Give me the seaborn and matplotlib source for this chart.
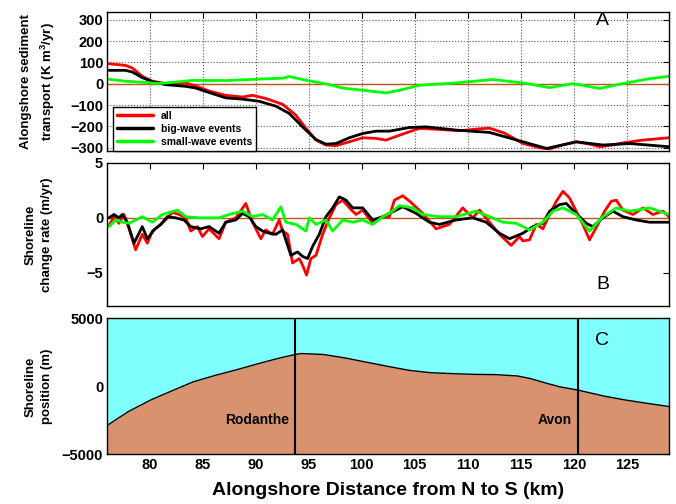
import matplotlib
matplotlib.use("Agg")
import matplotlib.pyplot as plt
import seaborn as sns
import numpy as np
import pandas as pd

# ---- Panel A: alongshore sediment transport (K m^3/yr)
a_km_all = [76.16, 77.73, 78.36, 79.30, 80.25, 81.51, 83.40, 84.34, 85.60, 87.17, 88.75, 89.69,
            90.95, 92.53, 93.78, 94.73, 95.67, 96.62, 97.56, 98.82, 100.08, 101.34, 102.28,
            104.01, 105.43, 107.32, 109.21, 111.10, 112.04, 113.46, 115.16, 116.76, 117.71,
            118.93, 120.23, 121.48, 122.43, 123.65, 124.60, 126.49, 128.94]
a_all = [94, 86, 74, 35, 12, 1, 4, -10, -34, -54, -62, -54,
         -69, -96, -147, -208, -264, -287, -290, -272, -253, -256, -264,
         -233, -209, -214, -220, -211, -208, -231, -279, -300, -305,
         -287, -272, -283, -295, -287, -277, -264, -253]
a_km_big = [76.16, 77.73, 78.36, 79.30, 80.25, 81.51, 83.40, 84.34, 85.60, 87.17, 88.75, 90.32,
            91.90, 93.16, 94.41, 95.67, 96.62, 97.56, 98.82, 100.08, 101.34, 102.60, 104.49,
            106.07, 108.89, 112.04, 114.64, 117.43, 120.23, 122.74, 125.26, 128.97]
a_big = [63, 63, 55, 29, 10, -4, -12, -20, -41, -66, -72, -82,
         -105, -139, -202, -261, -283, -280, -253, -233, -222, -222, -205,
         -202, -217, -228, -264, -303, -272, -287, -280, -295]
a_km_small = [76.16, 77.73, 79.30, 80.88, 82.45, 84.03, 87.17, 90.32, 92.53, 93.15, 94.41, 95.67,
              96.93, 98.19, 100.08, 102.28, 103.86, 105.43, 108.89, 112.35, 115.19, 117.71,
              119.91, 122.43, 124.63, 127.15, 128.97]
a_small = [21, 12, 7, 1, 8, 16, 15, 22, 26, 34, 20, 8,
           -4, -20, -30, -43, -27, -7, 4, 20, 4, -18,
           1, -22, 1, 24, 35]

# ---- Panel B: shoreline change rate (m/yr)
b_km_all = [76.16, 76.63, 77.10, 77.57, 78.05, 78.67, 79.30, 79.78, 80.25, 81.04,
            81.67, 82.14, 82.77, 83.39, 83.87, 84.50, 84.97, 85.60, 86.54, 87.17,
            88.12, 89.06, 89.69, 90.48, 90.95, 91.58, 92.21, 92.53, 93.00, 93.47,
            94.10, 94.42, 94.79, 95.20, 95.68, 96.31, 96.94, 97.57, 98.20, 98.83,
            99.46, 100.09, 101.03, 101.98, 102.60, 103.07, 103.86, 104.64, 105.74, 107.00,
            108.26, 109.52, 110.47, 111.10, 112.04, 112.98, 114.09, 114.87, 115.19, 115.82,
            116.45, 117.08, 117.71, 118.34, 118.97, 119.59, 120.22, 120.85, 121.48, 122.27,
            122.90, 123.53, 124.00, 124.63, 125.58, 126.52, 127.46, 128.41, 128.97]
b_all = [-0.7, 0.1, -0.5, 0.3, -1.0, -2.9, -1.5, -2.3, -1.2, -0.6,
         0.0, 0.5, 0.3, 0.0, -1.2, -0.8, -1.7, -1.0, -1.9, -0.4,
         0.0, 1.3, -0.4, -1.9, -1.1, -1.5, -0.2, -1.2, -1.5, -4.1,
         -3.7, -4.3, -5.2, -3.7, -3.4, -1.5, 0.0, 1.2, 1.6, 0.9,
         0.3, 0.7, -0.5, 0.1, 0.1, 1.6, 2.0, 1.4, 0.4, -1.0,
         -0.6, 0.9, 0.0, 0.7, -0.4, -1.5, -2.5, -1.7, -2.1, -2.0,
         -0.6, -1.0, 0.3, 1.5, 2.4, 1.8, 0.6, -0.6, -2.0, -0.6,
         0.6, 1.5, 1.6, 0.7, 0.3, 0.9, 0.3, 0.6, 0.1]
b_km_big = [76.16, 76.63, 77.10, 77.41, 77.89, 78.52, 79.30, 79.78, 80.41, 81.04,
            81.67, 82.45, 83.24, 83.87, 84.81, 85.60, 86.54, 87.17, 88.12, 88.75,
            89.38, 90.01, 90.64, 91.27, 91.90, 92.53, 93.31, 93.94, 94.42, 94.89,
            95.36, 95.99, 96.62, 97.25, 97.88, 98.51, 99.14, 100.09, 101.03, 101.98,
            102.60, 103.86, 105.12, 106.37, 107.32, 108.89, 110.47, 111.73, 112.98, 113.93,
            115.19, 116.13, 117.08, 117.71, 118.65, 119.28, 120.22, 121.17, 121.80, 122.74,
            123.69, 124.63, 125.89, 127.15, 128.97]
b_big = [0.0, 0.3, 0.0, 0.3, -0.4, -2.3, -0.8, -1.9, -1.1, -0.6,
         0.1, 0.0, -0.2, -0.8, -1.0, -0.8, -1.4, -0.4, -0.2, 0.4,
         0.1, -0.8, -1.2, -1.4, -1.5, -1.1, -3.4, -3.1, -3.5, -3.7,
         -2.6, -1.5, 0.1, 0.9, 1.9, 1.6, 0.9, 0.9, -0.2, 0.1,
         0.4, 1.0, 0.4, -0.4, -0.6, -0.2, 0.0, -0.4, -1.4, -1.9,
         -1.4, -0.8, -0.5, 0.6, 1.2, 1.3, 0.4, -0.5, -0.8, 0.0,
         0.6, 0.1, -0.2, -0.4, -0.4]
b_km_small = [76.16, 76.79, 77.41, 78.05, 79.30, 80.25, 81.19, 82.61, 83.39, 84.65,
              85.60, 86.54, 87.49, 88.75, 89.69, 90.64, 91.58, 92.37, 92.84, 93.79,
              94.73, 95.05, 95.68, 96.62, 97.25, 98.20, 99.14, 100.09, 101.03, 101.98,
              102.60, 103.54, 104.80, 105.74, 107.32, 108.89, 110.78, 112.04, 113.30, 114.56,
              115.82, 117.08, 118.02, 118.97, 120.22, 121.48, 122.74, 124.00, 125.26, 127.15,
              128.97]
b_small = [-0.8, -0.2, -0.4, -0.5, 0.1, -0.4, 0.3, 0.7, 0.1, 0.0,
           0.0, 0.0, 0.3, 0.6, 0.1, 0.3, -0.2, 1.0, -0.4, -0.6,
           -1.2, 0.0, -0.6, -0.2, -1.2, -0.2, -0.4, -0.2, -0.6, 0.1,
           0.4, 1.1, 0.9, 0.3, 0.1, 0.1, 0.6, 0.1, -0.4, -0.5,
           -1.1, -0.4, 0.6, 0.9, 0.3, -1.2, 0.1, 0.9, 0.6, 0.9,
           0.3]

# ---- Panel C: shoreline position (m)
c_km = [76.0, 78.0, 80.1, 82.1, 84.1, 86.2, 88.2, 90.2, 92.3, 93.7, 94.3, 96.4, 98.4,
        100.4, 102.5, 104.5, 106.5, 108.6, 110.6, 112.6, 114.7, 115.9, 117.5, 118.7,
        120.4, 122.8, 124.8, 126.9, 129.0]
c_pos = [-2870, -1850, -1000, -330, 330, 810, 1220, 1660, 2090, 2340, 2410, 2340, 2090,
         1780, 1460, 1170, 1000, 930, 880, 860, 760, 570, 210, -40,
         -280, -710, -1000, -1250, -1490]
towns = ["Rodanthe", "Avon"]
town_km = [93.7, 120.4]

series_names = ["all", "big-wave events", "small-wave events"]
series_colors = {"all": "#ff0000", "big-wave events": "#000000", "small-wave events": "#00ff00"}
ZERO_COLOR = "#c0541e"

sns.set_style("white")
plt.rcParams["font.family"] = ["Liberation Sans", "DejaVu Sans"]
plt.rcParams["font.weight"] = "bold"
plt.rcParams["text.color"] = "black"
plt.rcParams["axes.labelcolor"] = "black"
plt.rcParams["xtick.color"] = "black"
plt.rcParams["ytick.color"] = "black"
plt.rcParams["mathtext.fontset"] = "custom"
plt.rcParams["mathtext.rm"] = "Liberation Sans:bold"
plt.rcParams["mathtext.default"] = "rm"


def long_frame(kms, vals):
    parts = [pd.DataFrame({"km": k, "value": v, "series": n})
             for k, v, n in zip(kms, vals, series_names)]
    return pd.concat(parts, ignore_index=True)


def style_axis(ax, show_xlabels=False):
    ax.set_xlim(76, 129)
    ax.set_xticks(np.arange(80, 126, 5))
    ax.tick_params(direction="in", length=4, width=0.8, top=True, right=True,
                   labelsize=10.5, pad=3, colors="black", labelcolor="black")
    if not show_xlabels:
        ax.tick_params(labelbottom=False)
    for s in ax.spines.values():
        s.set_color("black")
        s.set_linewidth(1.0)
    ax.set_xlabel("")


fig = plt.figure(figsize=(6.76, 5.04), dpi=100)
L, W = 107.3 / 676, 562 / 676
ax_a = fig.add_axes([L, 0.7004, W, 0.2752])
ax_b = fig.add_axes([L, 0.3929, W, 0.2843])
ax_c = fig.add_axes([L, 0.0986, W, 0.2698])
YLAB_X = -0.122

# Panel A
df_a = long_frame([a_km_all, a_km_big, a_km_small], [a_all, a_big, a_small])
ax_a.axhline(0, color=ZERO_COLOR, lw=1.0, zorder=1)
sns.lineplot(data=df_a, x="km", y="value", hue="series", hue_order=series_names,
             palette=series_colors, estimator=None, lw=2, ax=ax_a)
ax_a.set_ylim(-315, 335)
ax_a.set_yticks(np.arange(-300, 301, 100))
style_axis(ax_a)
ax_a.grid(True, linestyle=":", color="#555555", lw=0.8)
ax_a.set_ylabel("Alongshore sediment\ntransport (K m$^3$/yr)", fontsize=9.5,
                fontweight="bold", va="center", linespacing=1.5)
ax_a.yaxis.set_label_coords(YLAB_X, 0.5)
leg = ax_a.legend(loc="lower left", bbox_to_anchor=(0.01, 0.0), borderaxespad=0,
                  fancybox=False, edgecolor="black", framealpha=1, fontsize=7.5,
                  handlelength=3.4, labelspacing=0.28, borderpad=0.4, handletextpad=0.8,
                  title=None)
leg.get_frame().set_linewidth(1.0)
for h in leg.get_lines():
    h.set_linewidth(2.5)
ax_a.text(0.881, 0.942, "A", transform=ax_a.transAxes, fontsize=14,
          fontweight="normal", ha="center", va="center")

# Panel B
df_b = long_frame([b_km_all, b_km_big, b_km_small], [b_all, b_big, b_small])
ax_b.axhline(0, color=ZERO_COLOR, lw=1.0, zorder=1)
sns.lineplot(data=df_b, x="km", y="value", hue="series", hue_order=series_names,
             palette=series_colors, estimator=None, lw=2, ax=ax_b, legend=False)
ax_b.set_ylim(-8, 5)
ax_b.set_yticks([-5, 0, 5])
style_axis(ax_b)
ax_b.set_ylabel("Shoreline\nchange rate (m/yr)", fontsize=9.5, fontweight="bold",
                va="center", linespacing=1.5)
ax_b.yaxis.set_label_coords(YLAB_X, 0.5)
ax_b.text(0.881, 0.147, "B", transform=ax_b.transAxes, fontsize=14,
          fontweight="normal", ha="center", va="center")

# Panel C
ax_c.fill_between(c_km, c_pos, 5000, color="#80ffff", lw=0)
ax_c.fill_between(c_km, -5000, c_pos, color="#d8926f", lw=0)
sns.lineplot(x=c_km, y=c_pos, color="black", lw=1.0, ax=ax_c)
for name, km in zip(towns, town_km):
    ax_c.axvline(km, color="black", lw=1.5)
    ax_c.text(km - 0.55, -2500, name, fontsize=10, fontweight="bold",
              ha="right", va="center")
ax_c.set_ylim(-5000, 5000)
ax_c.set_yticks([-5000, 0, 5000])
style_axis(ax_c, show_xlabels=True)
ax_c.set_ylabel("Shoreline\nposition (m)", fontsize=9.5, fontweight="bold",
                va="center", linespacing=1.5)
ax_c.yaxis.set_label_coords(YLAB_X, 0.5)
ax_c.set_xlabel("Alongshore Distance from N to S (km)", fontsize=14, fontweight="bold")
ax_c.xaxis.set_label_coords(0.5, -0.2625)
ax_c.xaxis.label.set_va("center")
ax_c.text(0.881, 0.84, "C", transform=ax_c.transAxes, fontsize=14,
          fontweight="normal", ha="center", va="center")

fig.savefig("out.png", dpi=100)
plt.close(fig)
